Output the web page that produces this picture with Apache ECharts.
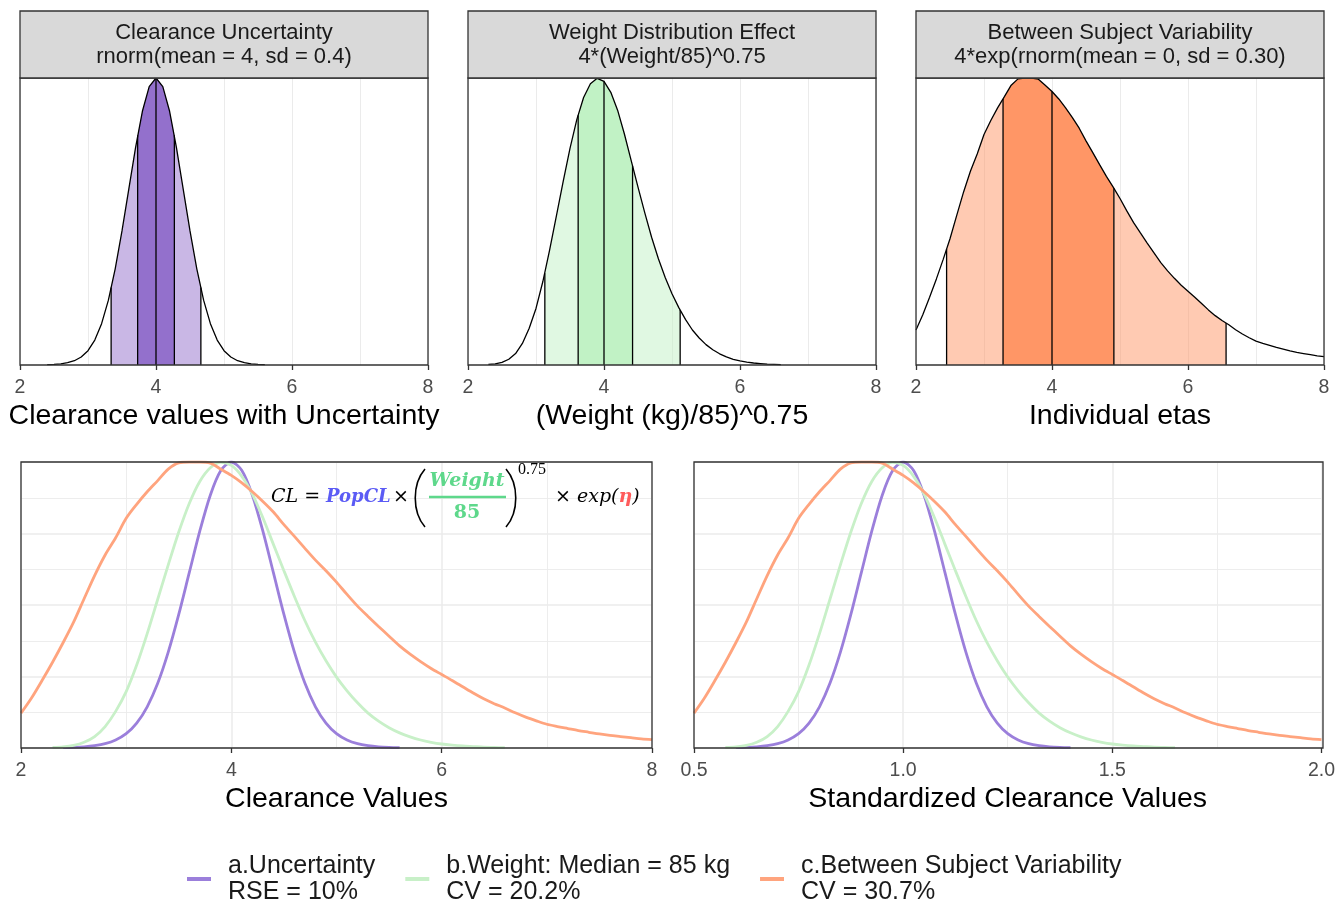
<!DOCTYPE html>
<html>
<head>
<meta charset="utf-8">
<script src="https://cdn.jsdelivr.net/npm/echarts@6/dist/echarts.min.js"></script>
<style>
  html, body { margin: 0; padding: 0; background: #fff; }
  #container { width: 1338px; height: 904px; }
</style>
</head>
<body>
<div id="container"></div>
<script>
const FONT = '"Liberation Sans", Arial, Helvetica, sans-serif';
const SERIF = '"DejaVu Serif", "Liberation Serif", serif';

// a. clearance uncertainty, density scaled to peak = 1
const uncX = [2.4, 2.5, 2.6, 2.7, 2.8, 2.9, 3.0, 3.1, 3.2, 3.3, 3.4, 3.5, 3.6, 3.7, 3.8, 3.9, 4.0,
  4.1, 4.2, 4.3, 4.4, 4.5, 4.6, 4.7, 4.8, 4.9, 5.0, 5.1, 5.2, 5.3, 5.4, 5.5, 5.6];
const uncY = [0.001, 0.002, 0.004, 0.008, 0.015, 0.028, 0.050, 0.087, 0.144, 0.226, 0.335, 0.467, 0.613, 0.758, 0.884, 0.970, 1.0,
  0.970, 0.884, 0.758, 0.613, 0.467, 0.335, 0.226, 0.144, 0.087, 0.050, 0.028, 0.015, 0.008, 0.004, 0.002, 0.001];
const uncQ = [3.34, 3.73, 4.0, 4.27, 4.66];
const uncQH = [0.27, 0.80, 1.0, 0.80, 0.27];

// b. weight effect
const wtX = [2.3, 2.4, 2.5, 2.6, 2.7, 2.8, 2.9, 3.0, 3.1, 3.2, 3.3, 3.4, 3.5, 3.6, 3.7, 3.8, 3.9, 4.0,
  4.1, 4.2, 4.3, 4.4, 4.5, 4.6, 4.7, 4.8, 4.9, 5.0, 5.1, 5.2, 5.3, 5.4, 5.5, 5.6, 5.7, 5.8, 5.9, 6.0,
  6.1, 6.2, 6.3, 6.4, 6.5, 6.6];
const wtY = [0.002, 0.004, 0.009, 0.020, 0.040, 0.075, 0.128, 0.197, 0.290, 0.400, 0.520, 0.640, 0.755, 0.855, 0.932, 0.980, 0.999, 0.988,
  0.950, 0.888, 0.805, 0.712, 0.620, 0.530, 0.445, 0.370, 0.305, 0.248, 0.200, 0.158, 0.122, 0.094, 0.071, 0.053, 0.039, 0.028, 0.020, 0.014,
  0.010, 0.007, 0.005, 0.003, 0.002, 0.001];
const wtQ = [3.13, 3.62, 4.0, 4.42, 5.12];
const wtQH = [0.32, 0.87, 0.988, 0.694, 0.192];

// c. between subject variability
const bsvX = [2.0, 2.1, 2.2, 2.3, 2.4, 2.5, 2.6, 2.7, 2.8, 2.9, 3.0, 3.1, 3.2, 3.3, 3.4, 3.5, 3.6, 3.7, 3.8, 3.9,
  4.0, 4.1, 4.2, 4.3, 4.4, 4.5, 4.6, 4.7, 4.8, 4.9, 5.0, 5.1, 5.2, 5.3, 5.4, 5.5, 5.6, 5.7, 5.8, 5.9,
  6.0, 6.1, 6.2, 6.3, 6.4, 6.5, 6.6, 6.7, 6.8, 6.9, 7.0, 7.1, 7.2, 7.3, 7.4, 7.5, 7.6, 7.7, 7.8, 7.9, 8.0];
const bsvY = [0.122, 0.175, 0.236, 0.300, 0.368, 0.440, 0.522, 0.603, 0.675, 0.735, 0.803, 0.852, 0.896, 0.935, 0.975, 0.997, 1.0, 1.0, 0.996, 0.975,
  0.953, 0.927, 0.896, 0.862, 0.825, 0.781, 0.740, 0.698, 0.657, 0.620, 0.580, 0.537, 0.496, 0.460, 0.425, 0.391, 0.357, 0.328, 0.302, 0.278,
  0.257, 0.236, 0.214, 0.192, 0.172, 0.155, 0.140, 0.123, 0.108, 0.095, 0.083, 0.075, 0.068, 0.061, 0.055, 0.049, 0.044, 0.040, 0.036, 0.032, 0.029];
const bsvQ = [2.45, 3.28, 4.0, 4.91, 6.56];
const bsvQH = [0.404, 0.927, 0.953, 0.616, 0.146];

const clTicks = [2, 4, 6, 8];
const stdTicks = [0.5, 1.0, 1.5, 2.0];
const typicalCL = 4;

const legendNames = ['a.Uncertainty', 'b.Weight: Median = 85 kg', 'c.Between Subject Variability'];
const legendSub = ['RSE = 10%', 'CV = 20.2%', 'CV = 30.7%'];
const lineColors = ['#9B7FDB', '#C8F0C8', '#FFA47E'];
const fillColors = ['#9370CC', '#C1F2C5', '#FF9666'];

const strips = [
  ['Clearance Uncertainty', 'rnorm(mean = 4, sd = 0.4)'],
  ['Weight Distribution Effect', '4*(Weight/85)^0.75'],
  ['Between Subject Variability', '4*exp(rnorm(mean = 0, sd = 0.30)']
];
const axisNames = ['Clearance values with Uncertainty', '(Weight (kg)/85)^0.75', 'Individual etas',
  'Clearance Values', 'Standardized Clearance Values'];

const panels = [
  { left: 20, top: 78, width: 408, height: 287 },
  { left: 468, top: 78, width: 408, height: 287 },
  { left: 916, top: 78, width: 408, height: 287 },
  { left: 21, top: 462, width: 631, height: 286 },
  { left: 694, top: 462, width: 629, height: 286 }
];

const zip = (xs, ys) => xs.map((x, i) => [x, ys[i]]);

function band(xs, ys, lo, hi, ylo, yhi) {
  const pts = [[lo, ylo]];
  xs.forEach((x, i) => { if (x > lo && x < hi) pts.push([x, ys[i]]); });
  pts.push([hi, yhi]);
  return pts;
}

const myChart = echarts.init(document.getElementById('container'));

const xAxes = panels.map((p, i) => {
  const ticks = i === 4 ? stdTicks : clTicks;
  const bottom = i >= 3;
  return {
    type: 'value',
    gridIndex: i,
    min: ticks[0],
    max: ticks[ticks.length - 1],
    interval: ticks[1] - ticks[0],
    name: axisNames[i],
    nameLocation: 'middle',
    nameGap: 37,
    nameTextStyle: { color: '#000', fontSize: 28.5, fontFamily: FONT },
    axisLine: { show: false },
    axisTick: { show: true, length: 5, lineStyle: { color: '#333', width: 1.3 } },
    axisLabel: {
      color: '#4D4D4D', fontSize: 19.5, fontFamily: FONT, margin: 13,
      formatter: v => (i === 4 ? v.toFixed(1) : String(v))
    },
    splitLine: { show: true, lineStyle: { color: '#EBEBEB', width: bottom ? 1.5 : 1 } },
    minorTick: { show: false, splitNumber: 2 },
    minorSplitLine: { show: true, lineStyle: { color: '#EBEBEB', width: bottom ? 0.9 : 1 } }
  };
});

const yAxes = panels.map((p, i) => {
  const bottom = i >= 3;
  return {
    type: 'value',
    gridIndex: i,
    min: 0,
    max: 1,
    interval: 0.25,
    axisLine: { show: false },
    axisTick: { show: false },
    axisLabel: { show: false },
    splitLine: { show: bottom, lineStyle: { color: '#EBEBEB', width: 1.5 } },
    minorTick: { show: false, splitNumber: 2 },
    minorSplitLine: { show: bottom, lineStyle: { color: '#EBEBEB', width: 0.9 } }
  };
});

const topData = [
  [uncX, uncY, uncQ, uncQH],
  [wtX, wtY, wtQ, wtQH],
  [bsvX, bsvY, bsvQ, bsvQH]
];

const series = [];
topData.forEach(([xs, ys, q, qh], k) => {
  series.push({
    type: 'line', xAxisIndex: k, yAxisIndex: k, symbol: 'none', silent: true, z: 2,
    data: band(xs, ys, q[0], q[4], qh[0], qh[4]),
    lineStyle: { width: 0 },
    areaStyle: { color: fillColors[k], opacity: 0.5 }
  });
  series.push({
    type: 'line', xAxisIndex: k, yAxisIndex: k, symbol: 'none', silent: true, z: 3,
    data: band(xs, ys, q[1], q[3], qh[1], qh[3]),
    lineStyle: { width: 0 },
    areaStyle: { color: fillColors[k], opacity: 1 }
  });
  series.push({
    type: 'custom', xAxisIndex: k, yAxisIndex: k, silent: true, z: 4,
    data: zip(q, qh),
    renderItem: (params, api) => {
      const top = api.coord([api.value(0), api.value(1)]);
      const bot = api.coord([api.value(0), 0]);
      return {
        type: 'line',
        shape: { x1: top[0], y1: top[1], x2: bot[0], y2: bot[1] },
        style: { stroke: '#000', lineWidth: 1.3 }
      };
    }
  });
  series.push({
    type: 'line', xAxisIndex: k, yAxisIndex: k, symbol: 'none', silent: true, z: 5,
    data: zip(xs, ys),
    lineStyle: { color: '#000', width: 1.3 }
  });
});

// bottom panels: same densities overlaid; right panel is CL divided by the typical value (4)
topData.forEach(([xs, ys], k) => {
  const common = {
    type: 'line', name: legendNames[k], symbol: 'none', smooth: 0.3,
    itemStyle: { color: lineColors[k] },
    lineStyle: { color: lineColors[k], width: 2.8 },
    z: 2 + k
  };
  series.push(Object.assign({}, common, { xAxisIndex: 3, yAxisIndex: 3, data: zip(xs, ys) }));
  series.push(Object.assign({}, common, {
    xAxisIndex: 4, yAxisIndex: 4,
    data: xs.map((x, i) => [x / typicalCL, ys[i]])
  }));
});

const graphic = [];
panels.forEach((p, i) => {
  graphic.push({
    type: 'rect', z: 50, silent: true,
    shape: { x: p.left, y: p.top, width: p.width, height: p.height },
    style: { fill: null, stroke: '#333', lineWidth: 1.3 }
  });
});
strips.forEach((s, i) => {
  const p = panels[i];
  graphic.push({
    type: 'rect', z: 50, silent: true,
    shape: { x: p.left, y: 11, width: p.width, height: p.top - 11 },
    style: { fill: '#D9D9D9', stroke: '#333', lineWidth: 1.3 }
  });
  graphic.push({
    type: 'text', z: 51, silent: true,
    x: p.left + p.width / 2, y: (11 + p.top) / 2,
    style: {
      text: s.join('\n'), fill: '#1A1A1A', fontSize: 22, fontFamily: FONT,
      lineHeight: 24, align: 'center', verticalAlign: 'middle'
    }
  });
});

// CL = PopCL x (Weight/85)^0.75 x exp(eta)
const green = '#5ED88B';
const eq = (x, y, text, extra) => ({
  type: 'text', z: 40, silent: true, x, y,
  style: Object.assign({ text, fill: '#000', fontSize: 19, fontFamily: SERIF,
    fontStyle: 'italic', verticalAlign: 'middle' }, extra)
});
const paren = (x0, dir) => ({
  type: 'bezierCurve', z: 40, silent: true,
  shape: { x1: x0, y1: 469, cpx1: x0 - dir * 13, cpy1: 484, cpx2: x0 - dir * 13, cpy2: 512, x2: x0, y2: 527 },
  style: { stroke: '#000', lineWidth: 1.6, fill: null }
});
graphic.push(
  eq(271, 497, 'CL ='),
  eq(326, 497, 'PopCL', { fill: '#5B5BF5', fontWeight: 'bold', fontSize: 18 }),
  eq(393, 497, '\u00d7', { fontStyle: 'normal' }),
  paren(425, 1),
  eq(467, 481, 'Weight', { fill: green, fontWeight: 'bold', align: 'center' }),
  eq(467, 513, '85', { fill: green, fontWeight: 'bold', fontStyle: 'normal', align: 'center' }),
  paren(506, -1),
  eq(518, 470, '0.75', { fontStyle: 'normal', fontSize: 16, fontFamily: '"Liberation Serif", serif' }),
  {
    type: 'text', z: 40, silent: true, x: 555, y: 497,
    style: {
      text: '{a|\u00d7 }{b|exp(}{c|\u03b7}{b|)}', verticalAlign: 'middle',
      rich: {
        a: { fontSize: 19, fontFamily: SERIF, fill: '#000' },
        b: { fontSize: 19, fontFamily: SERIF, fontStyle: 'italic', fill: '#000' },
        c: { fontSize: 19, fontFamily: SERIF, fontStyle: 'italic', fontWeight: 'bold', fill: '#FF5B5B' }
      }
    }
  },
  {
    type: 'line', z: 40, silent: true,
    shape: { x1: 429, y1: 497, x2: 506, y2: 497 },
    style: { stroke: green, lineWidth: 2.4 }
  }
);

const option = {
  animation: false,
  backgroundColor: '#fff',
  grid: panels.map(p => Object.assign({ show: false }, p)),
  xAxis: xAxes,
  yAxis: yAxes,
  legend: {
    data: legendNames,
    left: 187,
    top: 853,
    padding: 0,
    itemGap: 30,
    itemWidth: 24,
    itemHeight: 4,
    icon: 'rect',
    selectedMode: false,
    formatter: name => name + '\n' + legendSub[legendNames.indexOf(name)],
    textStyle: { fontSize: 25, lineHeight: 26, color: '#1A1A1A', fontFamily: FONT, padding: [0, 0, 0, 12] }
  },
  graphic: graphic,
  series: series
};
myChart.setOption(option);
window.addEventListener('resize', () => {
  myChart.resize();
});
</script>
</body>
</html>
